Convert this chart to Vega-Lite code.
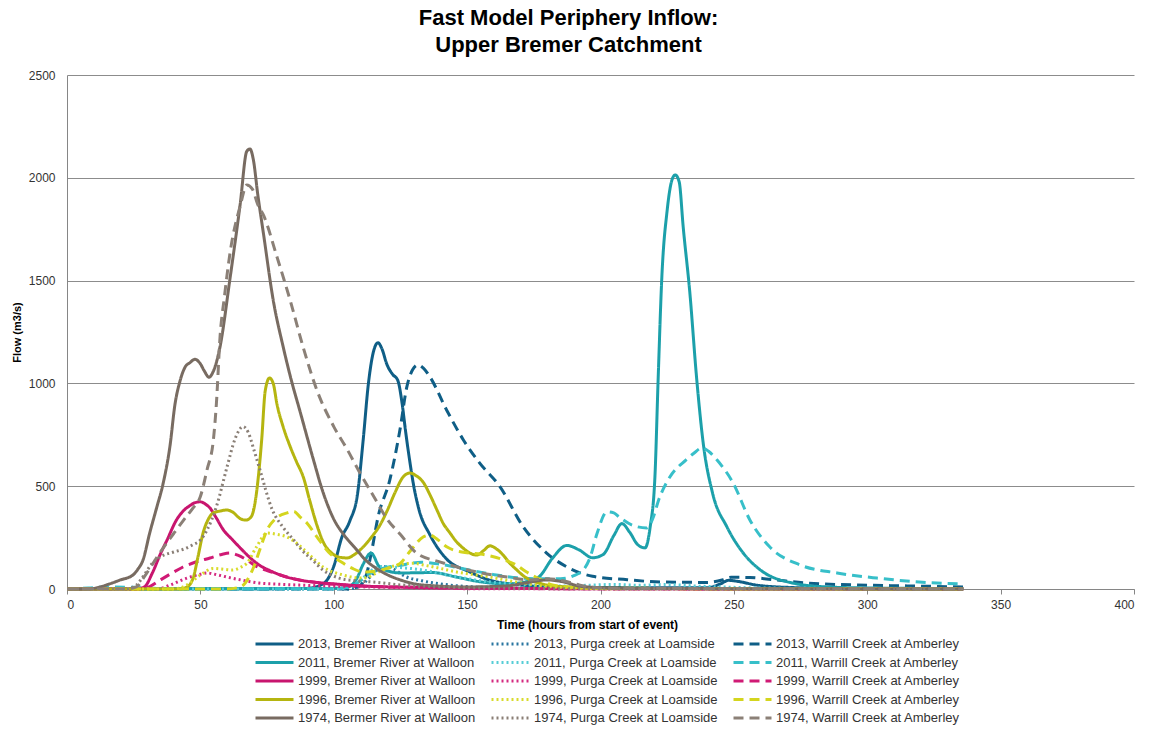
{
"$schema": "https://vega.github.io/schema/vega-lite/v6.json",
"width": 1067, "height": 514,
"autosize": {"type": "none"},
"padding": {"left": 67, "top": 75, "right": 22, "bottom": 140},
"background": "white",
"title": {"text": ["Fast Model Periphery Inflow:", "Upper Bremer Catchment"], "font": "Liberation Sans", "fontSize": 22, "fontWeight": "bold", "color": "#000000", "anchor": "middle", "dx": -32, "offset": 12, "lineHeight": 27},
"datasets": {
"s1": [{"t":0,"v":0},{"t":60,"v":1},{"t":90,"v":3},{"t":96,"v":25},{"t":100,"v":110},{"t":103,"v":250},{"t":106,"v":330},{"t":109,"v":470},{"t":111,"v":720},{"t":113,"v":1000},{"t":115,"v":1160},{"t":116.6,"v":1198},{"t":118,"v":1170},{"t":120,"v":1090},{"t":122,"v":1045},{"t":124,"v":1015},{"t":125.6,"v":905},{"t":127,"v":760},{"t":128.6,"v":613},{"t":130,"v":500},{"t":132,"v":384},{"t":136,"v":265},{"t":142,"v":150},{"t":151,"v":83},{"t":158,"v":45},{"t":170,"v":20},{"t":185,"v":8},{"t":240,"v":6},{"t":245,"v":25},{"t":248,"v":42},{"t":252,"v":36},{"t":258,"v":20},{"t":270,"v":8},{"t":290,"v":3},{"t":336,"v":1}],
"s2": [{"t":0,"v":0},{"t":105,"v":0},{"t":110,"v":15},{"t":113,"v":50},{"t":116,"v":90},{"t":119,"v":110},{"t":122,"v":100},{"t":127,"v":60},{"t":133,"v":40},{"t":140,"v":25},{"t":150,"v":12},{"t":170,"v":5},{"t":200,"v":2},{"t":336,"v":0}],
"s3": [{"t":0,"v":0},{"t":105,"v":0},{"t":109,"v":10},{"t":112,"v":60},{"t":114,"v":170},{"t":116.6,"v":350},{"t":121,"v":530},{"t":124.8,"v":773},{"t":127.4,"v":983},{"t":129.5,"v":1065},{"t":131.6,"v":1090},{"t":133.5,"v":1075},{"t":136,"v":1033},{"t":142.3,"v":871},{"t":148.6,"v":725},{"t":154.8,"v":611},{"t":162.3,"v":498},{"t":171,"v":303},{"t":179.8,"v":175},{"t":187.3,"v":108},{"t":197,"v":62},{"t":210,"v":45},{"t":223,"v":34},{"t":240,"v":32},{"t":246,"v":45},{"t":249,"v":57},{"t":256,"v":56},{"t":265,"v":45},{"t":277,"v":29},{"t":295,"v":20},{"t":315,"v":15},{"t":336,"v":10}],
"s4": [{"t":0,"v":0},{"t":100,"v":3},{"t":105,"v":8},{"t":108.6,"v":50},{"t":111,"v":120},{"t":114,"v":175},{"t":117,"v":110},{"t":121,"v":85},{"t":125,"v":78},{"t":137,"v":80},{"t":146,"v":58},{"t":155,"v":35},{"t":165,"v":25},{"t":172,"v":35},{"t":177,"v":60},{"t":182,"v":150},{"t":187.4,"v":212},{"t":192,"v":190},{"t":197,"v":152},{"t":201,"v":168},{"t":205,"v":260},{"t":208,"v":318},{"t":211,"v":275},{"t":214,"v":215},{"t":216.7,"v":200},{"t":218.6,"v":300},{"t":220.4,"v":545},{"t":221.6,"v":1017},{"t":223,"v":1518},{"t":225,"v":1843},{"t":226.8,"v":1990},{"t":228,"v":2014},{"t":229.5,"v":1980},{"t":231,"v":1761},{"t":233.5,"v":1440},{"t":236,"v":1031},{"t":238.5,"v":710},{"t":242,"v":467},{"t":247.4,"v":302},{"t":253.5,"v":175},{"t":260,"v":92},{"t":272,"v":29},{"t":285,"v":10},{"t":300,"v":5},{"t":336,"v":2}],
"s5": [{"t":0,"v":0},{"t":100,"v":0},{"t":106,"v":10},{"t":110,"v":40},{"t":114,"v":90},{"t":118,"v":110},{"t":124,"v":105},{"t":132,"v":95},{"t":142,"v":70},{"t":155,"v":40},{"t":170,"v":22},{"t":185,"v":15},{"t":195,"v":18},{"t":205,"v":22},{"t":215,"v":18},{"t":225,"v":22},{"t":235,"v":15},{"t":250,"v":8},{"t":270,"v":4},{"t":336,"v":1}],
"s6": [{"t":0,"v":0},{"t":8,"v":5},{"t":15,"v":10},{"t":25,"v":8},{"t":35,"v":2},{"t":100,"v":1},{"t":106,"v":10},{"t":110,"v":40},{"t":113,"v":70},{"t":117,"v":95},{"t":125,"v":115},{"t":133,"v":130},{"t":140,"v":120},{"t":148,"v":100},{"t":160,"v":70},{"t":175,"v":50},{"t":185,"v":50},{"t":190,"v":65},{"t":194,"v":100},{"t":196,"v":150},{"t":198.7,"v":270},{"t":202.4,"v":375},{"t":205,"v":370},{"t":207,"v":350},{"t":212,"v":310},{"t":217.4,"v":297},{"t":219.5,"v":340},{"t":222,"v":440},{"t":226,"v":545},{"t":232,"v":627},{"t":235,"v":660},{"t":238,"v":686},{"t":240.5,"v":670},{"t":243.7,"v":627},{"t":249.7,"v":516},{"t":256,"v":336},{"t":263.5,"v":204},{"t":274.8,"v":117},{"t":288.7,"v":78},{"t":303.6,"v":53},{"t":322,"v":32},{"t":336,"v":25}],
"s7": [{"t":0,"v":0},{"t":26,"v":0},{"t":29,"v":10},{"t":32,"v":78},{"t":35,"v":170},{"t":37.5,"v":238},{"t":41,"v":335},{"t":44,"v":385},{"t":46,"v":405},{"t":48,"v":420},{"t":50,"v":424},{"t":52,"v":412},{"t":53.6,"v":394},{"t":56,"v":345},{"t":58.5,"v":290},{"t":62,"v":240},{"t":65,"v":199},{"t":68,"v":160},{"t":72,"v":117},{"t":76,"v":90},{"t":80,"v":68},{"t":87,"v":44},{"t":95,"v":30},{"t":100,"v":25},{"t":110,"v":15},{"t":130,"v":8},{"t":150,"v":5},{"t":170,"v":3},{"t":200,"v":1},{"t":336,"v":0}],
"s8": [{"t":0,"v":0},{"t":34,"v":0},{"t":38.6,"v":19},{"t":45,"v":53},{"t":50,"v":72},{"t":52.5,"v":78},{"t":56,"v":70},{"t":60,"v":58},{"t":66,"v":42},{"t":72,"v":29},{"t":80,"v":23},{"t":87,"v":19},{"t":100,"v":14},{"t":120,"v":8},{"t":140,"v":3},{"t":160,"v":1},{"t":336,"v":0}],
"s9": [{"t":0,"v":0},{"t":28,"v":0},{"t":31,"v":12},{"t":35,"v":44},{"t":39,"v":75},{"t":43.5,"v":107},{"t":48,"v":130},{"t":53.6,"v":151},{"t":58,"v":168},{"t":61,"v":175},{"t":64,"v":165},{"t":67.5,"v":141},{"t":71,"v":110},{"t":75,"v":90},{"t":80,"v":68},{"t":85,"v":50},{"t":95,"v":30},{"t":110,"v":15},{"t":130,"v":8},{"t":160,"v":3},{"t":200,"v":1},{"t":336,"v":0}],
"s10": [{"t":0,"v":0},{"t":42,"v":0},{"t":45,"v":10},{"t":47.4,"v":58},{"t":49,"v":150},{"t":51,"v":272},{"t":53,"v":340},{"t":54.8,"v":370},{"t":57,"v":378},{"t":60,"v":384},{"t":62,"v":375},{"t":65,"v":342},{"t":67,"v":335},{"t":69,"v":350},{"t":70.5,"v":420},{"t":72,"v":580},{"t":73,"v":728},{"t":74.3,"v":963},{"t":75.9,"v":1026},{"t":77.3,"v":1000},{"t":78.7,"v":900},{"t":81,"v":790},{"t":83.6,"v":695},{"t":86,"v":620},{"t":88.6,"v":544},{"t":91,"v":430},{"t":93.7,"v":310},{"t":96,"v":230},{"t":99.7,"v":170},{"t":102,"v":155},{"t":105,"v":151},{"t":108,"v":170},{"t":111,"v":204},{"t":114,"v":250},{"t":117.3,"v":310},{"t":120,"v":380},{"t":123,"v":470},{"t":126,"v":545},{"t":128.6,"v":564},{"t":131,"v":550},{"t":133.5,"v":520},{"t":136,"v":460},{"t":138.7,"v":384},{"t":141,"v":320},{"t":143.6,"v":272},{"t":146,"v":230},{"t":148.5,"v":199},{"t":151,"v":175},{"t":153.7,"v":165},{"t":156,"v":185},{"t":158.6,"v":210},{"t":161,"v":195},{"t":163.5,"v":165},{"t":166,"v":125},{"t":168.7,"v":92},{"t":171,"v":65},{"t":173.6,"v":44},{"t":178,"v":25},{"t":185,"v":12},{"t":200,"v":4},{"t":336,"v":0}],
"s11": [{"t":0,"v":0},{"t":40,"v":0},{"t":45,"v":20},{"t":50,"v":68},{"t":54.8,"v":100},{"t":58,"v":97},{"t":62,"v":92},{"t":65,"v":105},{"t":67.5,"v":126},{"t":71,"v":204},{"t":75,"v":272},{"t":79,"v":265},{"t":82.5,"v":253},{"t":86,"v":224},{"t":91,"v":165},{"t":96,"v":107},{"t":103.5,"v":68},{"t":111,"v":53},{"t":118,"v":90},{"t":125,"v":120},{"t":130,"v":125},{"t":133.5,"v":117},{"t":140,"v":100},{"t":146,"v":83},{"t":158.6,"v":58},{"t":168,"v":35},{"t":175,"v":20},{"t":190,"v":5},{"t":210,"v":1},{"t":336,"v":0}],
"s12": [{"t":0,"v":0},{"t":60,"v":0},{"t":65,"v":10},{"t":70,"v":107},{"t":72.5,"v":200},{"t":75,"v":287},{"t":78,"v":340},{"t":82.5,"v":370},{"t":85,"v":377},{"t":87.4,"v":350},{"t":90,"v":320},{"t":93.7,"v":253},{"t":98,"v":180},{"t":103.5,"v":126},{"t":107,"v":100},{"t":111,"v":83},{"t":115,"v":85},{"t":120,"v":100},{"t":125,"v":126},{"t":129,"v":190},{"t":133.5,"v":253},{"t":136,"v":262},{"t":139,"v":240},{"t":142.5,"v":204},{"t":148,"v":180},{"t":155,"v":170},{"t":163,"v":145},{"t":168,"v":120},{"t":172,"v":85},{"t":177,"v":50},{"t":182,"v":20},{"t":190,"v":8},{"t":200,"v":3},{"t":336,"v":0}],
"s13": [{"t":0,"v":0},{"t":8,"v":0},{"t":12.4,"v":10},{"t":16,"v":25},{"t":20,"v":44},{"t":24.7,"v":68},{"t":26.5,"v":95},{"t":28.5,"v":141},{"t":31,"v":272},{"t":33.6,"v":395},{"t":36,"v":511},{"t":38.6,"v":695},{"t":40.5,"v":900},{"t":42.4,"v":1013},{"t":44.3,"v":1080},{"t":46,"v":1100},{"t":48,"v":1117},{"t":49.9,"v":1097},{"t":51.5,"v":1060},{"t":53.2,"v":1030},{"t":54.9,"v":1060},{"t":57.4,"v":1180},{"t":61,"v":1500},{"t":64.9,"v":1869},{"t":67.4,"v":2129},{"t":68.6,"v":2140},{"t":69.9,"v":2085},{"t":71.5,"v":1920},{"t":73.6,"v":1733},{"t":77.4,"v":1398},{"t":81,"v":1180},{"t":84,"v":1020},{"t":87.4,"v":862},{"t":92.4,"v":628},{"t":96,"v":470},{"t":100,"v":340},{"t":104,"v":260},{"t":108,"v":200},{"t":112,"v":140},{"t":116,"v":100},{"t":120,"v":70},{"t":125,"v":44},{"t":133,"v":20},{"t":150,"v":10},{"t":165,"v":15},{"t":172,"v":30},{"t":180,"v":44},{"t":186,"v":35},{"t":193,"v":12},{"t":210,"v":3},{"t":336,"v":0}],
"s14": [{"t":0,"v":0},{"t":22,"v":0},{"t":26,"v":19},{"t":29,"v":70},{"t":32,"v":126},{"t":35,"v":156},{"t":40,"v":180},{"t":44,"v":195},{"t":47,"v":214},{"t":50,"v":238},{"t":52.5,"v":287},{"t":56,"v":400},{"t":60,"v":594},{"t":63,"v":730},{"t":66,"v":790},{"t":68,"v":760},{"t":70,"v":680},{"t":72,"v":594},{"t":77,"v":384},{"t":81,"v":300},{"t":85,"v":238},{"t":88,"v":190},{"t":92,"v":141},{"t":96,"v":92},{"t":102,"v":53},{"t":108,"v":40},{"t":115,"v":34},{"t":125,"v":20},{"t":140,"v":10},{"t":160,"v":4},{"t":200,"v":1},{"t":336,"v":0}],
"s15": [{"t":0,"v":0},{"t":22,"v":0},{"t":26,"v":10},{"t":29,"v":60},{"t":32,"v":120},{"t":35,"v":180},{"t":40,"v":270},{"t":44,"v":340},{"t":47,"v":390},{"t":50,"v":450},{"t":52.5,"v":580},{"t":54.9,"v":728},{"t":56,"v":900},{"t":57.4,"v":1231},{"t":59,"v":1420},{"t":61.1,"v":1633},{"t":65,"v":1867},{"t":67.4,"v":1965},{"t":69.5,"v":1945},{"t":71.5,"v":1870},{"t":73.7,"v":1817},{"t":78.7,"v":1616},{"t":83.8,"v":1398},{"t":88.8,"v":1164},{"t":93.8,"v":963},{"t":100,"v":790},{"t":105,"v":680},{"t":110,"v":560},{"t":115,"v":450},{"t":120,"v":340},{"t":125,"v":265},{"t":131,"v":175},{"t":140,"v":131},{"t":153.7,"v":83},{"t":165,"v":58},{"t":173.6,"v":44},{"t":180,"v":50},{"t":186,"v":40},{"t":192,"v":20},{"t":200,"v":5},{"t":336,"v":0}]
},
"encoding": {
 "x": {"field": "t", "type": "quantitative", "scale": {"domain": [0, 400], "nice": false, "zero": false},
  "axis": {"values": [0,50,100,150,200,250,300,350,400], "grid": false, "domain": true, "domainColor": "#868686", "ticks": true, "tickColor": "#868686", "tickSize": 5, "labelFont": "Liberation Sans", "labelFontSize": 12, "labelColor": "#333333", "labelPadding": 5, "title": "Time (hours from start of event)", "titleFont": "Liberation Sans", "titleFontSize": 12, "titleFontWeight": "bold", "titleColor": "#000000", "titlePadding": 9, "titleX": 520}},
 "y": {"field": "v", "type": "quantitative", "scale": {"domain": [0, 2500], "nice": false},
  "axis": {"values": [0,500,1000,1500,2000,2500], "format": "d", "grid": true, "gridColor": "#8c8c8c", "gridWidth": 1, "domain": true, "domainColor": "#868686", "ticks": false, "labelFont": "Liberation Sans", "labelFontSize": 12, "labelColor": "#333333", "labelPadding": 12, "title": "Flow (m3/s)", "titleFont": "Liberation Sans", "titleFontSize": 11, "titleFontWeight": "bold", "titleColor": "#000000", "titlePadding": 6}}
},
"layer": [
 {"data": {"name": "s1"}, "mark": {"type": "line", "interpolate": "monotone", "strokeWidth": 3},
  "encoding": {
   "color": {"datum": "2013, Bremer River at Walloon", "type": "nominal",
     "scale": {"domain": ["2013, Bremer River at Walloon","2011, Bremer River at Walloon","1999, Bremer River at Walloon","1996, Bremer River at Walloon","1974, Bermer River at Walloon","2013, Purga creek at Loamside","2011, Purga Creek at Loamside","1999, Purga Creek at Loamside","1996, Purga Creek at Loamside","1974, Purga Creek at Loamside","2013, Warrill Creek at Amberley","2011, Warrill Creek at Amberley","1999, Warrill Creek at Amberley","1996, Warrill Creek at Amberley","1974, Warrill Creek at Amberley"],
       "range": ["#0f5e86","#1ca0aa","#c8156e","#b5b510","#786b61","#2a76a0","#57cdd6","#d42a80","#d8db2c","#8a7f76","#0f5e86","#37bfc9","#d01a75","#d4d51e","#8b8077"]},
     "legend": {"title": null, "orient": "none", "legendX": 187, "legendY": 561, "columns": 3}},
   "strokeDash": {"datum": "2013, Bremer River at Walloon", "type": "nominal",
     "scale": {"domain": ["2013, Bremer River at Walloon","2011, Bremer River at Walloon","1999, Bremer River at Walloon","1996, Bremer River at Walloon","1974, Bermer River at Walloon","2013, Purga creek at Loamside","2011, Purga Creek at Loamside","1999, Purga Creek at Loamside","1996, Purga Creek at Loamside","1974, Purga Creek at Loamside","2013, Warrill Creek at Amberley","2011, Warrill Creek at Amberley","1999, Warrill Creek at Amberley","1996, Warrill Creek at Amberley","1974, Warrill Creek at Amberley"],
       "range": [[1,0],[1,0],[1,0],[1,0],[1,0],[2,3],[2,3],[2,3],[2,3],[2,3],[10,6],[10,6],[10,6],[10,6],[10,6]]},
     "legend": {"title": null, "orient": "none", "legendX": 187, "legendY": 561, "columns": 3}}}},
 {"data": {"name": "s2"}, "mark": {"type": "line", "interpolate": "monotone", "strokeWidth": 3}, "encoding": {"color": {"datum": "2013, Purga creek at Loamside", "type": "nominal"}, "strokeDash": {"datum": "2013, Purga creek at Loamside", "type": "nominal"}}},
 {"data": {"name": "s3"}, "mark": {"type": "line", "interpolate": "monotone", "strokeWidth": 3}, "encoding": {"color": {"datum": "2013, Warrill Creek at Amberley", "type": "nominal"}, "strokeDash": {"datum": "2013, Warrill Creek at Amberley", "type": "nominal"}}},
 {"data": {"name": "s4"}, "mark": {"type": "line", "interpolate": "monotone", "strokeWidth": 3}, "encoding": {"color": {"datum": "2011, Bremer River at Walloon", "type": "nominal"}, "strokeDash": {"datum": "2011, Bremer River at Walloon", "type": "nominal"}}},
 {"data": {"name": "s5"}, "mark": {"type": "line", "interpolate": "monotone", "strokeWidth": 3}, "encoding": {"color": {"datum": "2011, Purga Creek at Loamside", "type": "nominal"}, "strokeDash": {"datum": "2011, Purga Creek at Loamside", "type": "nominal"}}},
 {"data": {"name": "s6"}, "mark": {"type": "line", "interpolate": "monotone", "strokeWidth": 3}, "encoding": {"color": {"datum": "2011, Warrill Creek at Amberley", "type": "nominal"}, "strokeDash": {"datum": "2011, Warrill Creek at Amberley", "type": "nominal"}}},
 {"data": {"name": "s7"}, "mark": {"type": "line", "interpolate": "monotone", "strokeWidth": 3}, "encoding": {"color": {"datum": "1999, Bremer River at Walloon", "type": "nominal"}, "strokeDash": {"datum": "1999, Bremer River at Walloon", "type": "nominal"}}},
 {"data": {"name": "s8"}, "mark": {"type": "line", "interpolate": "monotone", "strokeWidth": 3}, "encoding": {"color": {"datum": "1999, Purga Creek at Loamside", "type": "nominal"}, "strokeDash": {"datum": "1999, Purga Creek at Loamside", "type": "nominal"}}},
 {"data": {"name": "s9"}, "mark": {"type": "line", "interpolate": "monotone", "strokeWidth": 3}, "encoding": {"color": {"datum": "1999, Warrill Creek at Amberley", "type": "nominal"}, "strokeDash": {"datum": "1999, Warrill Creek at Amberley", "type": "nominal"}}},
 {"data": {"name": "s10"}, "mark": {"type": "line", "interpolate": "monotone", "strokeWidth": 3}, "encoding": {"color": {"datum": "1996, Bremer River at Walloon", "type": "nominal"}, "strokeDash": {"datum": "1996, Bremer River at Walloon", "type": "nominal"}}},
 {"data": {"name": "s11"}, "mark": {"type": "line", "interpolate": "monotone", "strokeWidth": 3}, "encoding": {"color": {"datum": "1996, Purga Creek at Loamside", "type": "nominal"}, "strokeDash": {"datum": "1996, Purga Creek at Loamside", "type": "nominal"}}},
 {"data": {"name": "s12"}, "mark": {"type": "line", "interpolate": "monotone", "strokeWidth": 3}, "encoding": {"color": {"datum": "1996, Warrill Creek at Amberley", "type": "nominal"}, "strokeDash": {"datum": "1996, Warrill Creek at Amberley", "type": "nominal"}}},
 {"data": {"name": "s13"}, "mark": {"type": "line", "interpolate": "monotone", "strokeWidth": 3}, "encoding": {"color": {"datum": "1974, Bermer River at Walloon", "type": "nominal"}, "strokeDash": {"datum": "1974, Bermer River at Walloon", "type": "nominal"}}},
 {"data": {"name": "s14"}, "mark": {"type": "line", "interpolate": "monotone", "strokeWidth": 3}, "encoding": {"color": {"datum": "1974, Purga Creek at Loamside", "type": "nominal"}, "strokeDash": {"datum": "1974, Purga Creek at Loamside", "type": "nominal"}}},
 {"data": {"name": "s15"}, "mark": {"type": "line", "interpolate": "monotone", "strokeWidth": 3}, "encoding": {"color": {"datum": "1974, Warrill Creek at Amberley", "type": "nominal"}, "strokeDash": {"datum": "1974, Warrill Creek at Amberley", "type": "nominal"}}}
],
"config": {
 "view": {"stroke": null},
 "legend": {"symbolType": "stroke", "symbolSize": 1444, "symbolStrokeWidth": 3, "labelFont": "Liberation Sans", "labelFontSize": 13, "labelColor": "#333333", "labelOffset": 3, "columnPadding": 14, "rowPadding": 2.5, "clipHeight": 16, "labelLimit": 300}
}
}
